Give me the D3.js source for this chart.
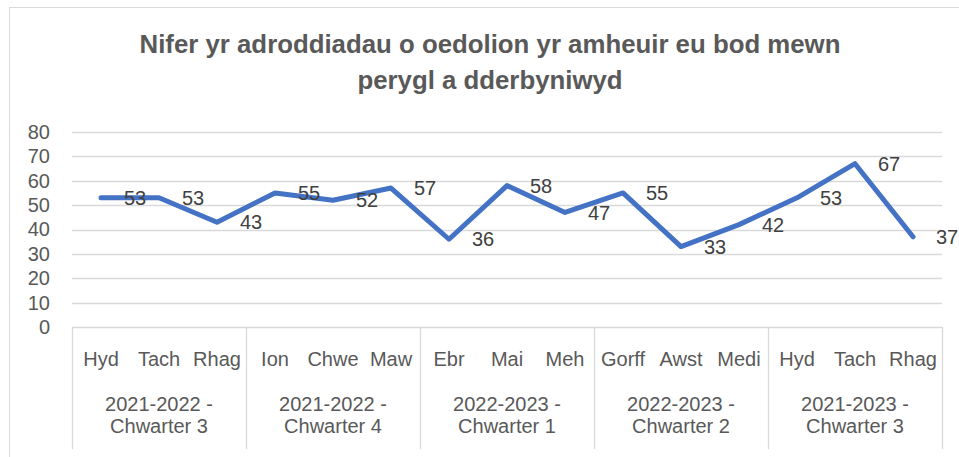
<!DOCTYPE html>
<html>
<head>
<meta charset="utf-8">
<script src="https://cdn.jsdelivr.net/npm/d3@7"></script>
<style>
  html, body { margin: 0; padding: 0; background: #fff; }
  svg { display: block; font-family: "Liberation Sans", Arial, sans-serif; }
</style>
</head>
<body>
<svg id="chart" width="959" height="457"></svg>
<script>
// Monthly counts of adult-at-risk reports received
const months = ["Hyd", "Tach", "Rhag", "Ion", "Chwe", "Maw", "Ebr", "Mai", "Meh",
                "Gorff", "Awst", "Medi", "Hyd", "Tach", "Rhag"];
const values = [53, 53, 43, 55, 52, 57, 36, 58, 47, 55, 33, 42, 53, 67, 37];
const quarters = [
  ["2021-2022 -", "Chwarter 3"],
  ["2021-2022 -", "Chwarter 4"],
  ["2022-2023 -", "Chwarter 1"],
  ["2022-2023 -", "Chwarter 2"],
  ["2021-2023 -", "Chwarter 3"]
];
const yTicks = [0, 10, 20, 30, 40, 50, 60, 70, 80];
const titleLines = ["Nifer yr adroddiadau o oedolion yr amheuir eu bod mewn",
                    "perygl a dderbyniwyd"];

const svg = d3.select("#chart");
const plot = { left: 72, right: 942, top: 132, bottom: 327 };

// chart frame
svg.append("rect")
  .attr("x", 9.5).attr("y", 7.5).attr("width", 1000).attr("height", 1000)
  .attr("fill", "#fff").attr("stroke", "#d9d9d9").attr("stroke-width", 1);

// title
svg.append("g").selectAll("text").data(titleLines).join("text")
  .attr("x", 490).attr("y", (d, i) => 53 + i * 36)
  .attr("text-anchor", "middle")
  .attr("font-size", 25.8).attr("font-weight", "bold").attr("fill", "#595959")
  .text(d => d);

const idx = d3.range(months.length);
const x = d3.scaleBand().domain(idx).range([plot.left, plot.right]);
const y = d3.scaleLinear().domain([0, 80]).range([plot.bottom, plot.top]);
const cx = i => x(i) + x.bandwidth() / 2;

// horizontal gridlines
svg.append("g").selectAll("line").data(yTicks.filter(t => t > 0)).join("line")
  .attr("x1", plot.left).attr("x2", plot.right)
  .attr("y1", d => Math.round(y(d)) + 0.5).attr("y2", d => Math.round(y(d)) + 0.5)
  .attr("stroke", "#d9d9d9").attr("stroke-width", 1.3);

// y axis labels
const yAxis = d3.axisLeft(y).tickValues(yTicks).tickSize(0).tickPadding(0);
const gy = svg.append("g").attr("transform", `translate(50,0)`).call(yAxis);
gy.select(".domain").remove();
gy.selectAll("text").attr("font-size", 20).attr("fill", "#595959")
  .attr("font-family", "Liberation Sans, Arial, sans-serif");

// category axis: baseline and group separators
const axisBottom = 449;
svg.append("line")
  .attr("x1", plot.left).attr("x2", plot.right)
  .attr("y1", plot.bottom + 0.5).attr("y2", plot.bottom + 0.5)
  .attr("stroke", "#d9d9d9").attr("stroke-width", 1.3);
const sepIdx = d3.range(0, months.length + 1, 3);
svg.append("g").selectAll("line").data(sepIdx).join("line")
  .attr("x1", d => Math.round(d < months.length ? x(d) : plot.right) + 0.5)
  .attr("x2", d => Math.round(d < months.length ? x(d) : plot.right) + 0.5)
  .attr("y1", plot.bottom).attr("y2", axisBottom)
  .attr("stroke", "#d9d9d9").attr("stroke-width", 1.3);

// month labels
svg.append("g").selectAll("text").data(months).join("text")
  .attr("x", (d, i) => cx(i)).attr("y", 366)
  .attr("text-anchor", "middle").attr("font-size", 20).attr("fill", "#595959")
  .text(d => d);

// quarter labels
const qg = svg.append("g").selectAll("g").data(quarters).join("g");
qg.selectAll("text").data((d, qi) => d.map(t => ({ t, qi }))).join("text")
  .attr("x", d => (x(d.qi * 3) + (d.qi * 3 + 3 < months.length ? x(d.qi * 3 + 3) : plot.right)) / 2)
  .attr("y", (d, i) => 411 + i * 22)
  .attr("text-anchor", "middle").attr("font-size", 20).attr("fill", "#595959")
  .text(d => d.t);

// series line
const line = d3.line().x((d, i) => cx(i)).y(d => y(d));
svg.append("path").datum(values)
  .attr("d", line).attr("fill", "none")
  .attr("stroke", "#4472c4").attr("stroke-width", 5)
  .attr("stroke-linejoin", "round").attr("stroke-linecap", "round");

// value labels to the right of each point
svg.append("g").selectAll("text").data(values).join("text")
  .attr("x", (d, i) => cx(i) + 23).attr("y", d => y(d))
  .attr("dy", "0.36em").attr("font-size", 20).attr("fill", "#404040")
  .text(d => d);
</script>
</body>
</html>
